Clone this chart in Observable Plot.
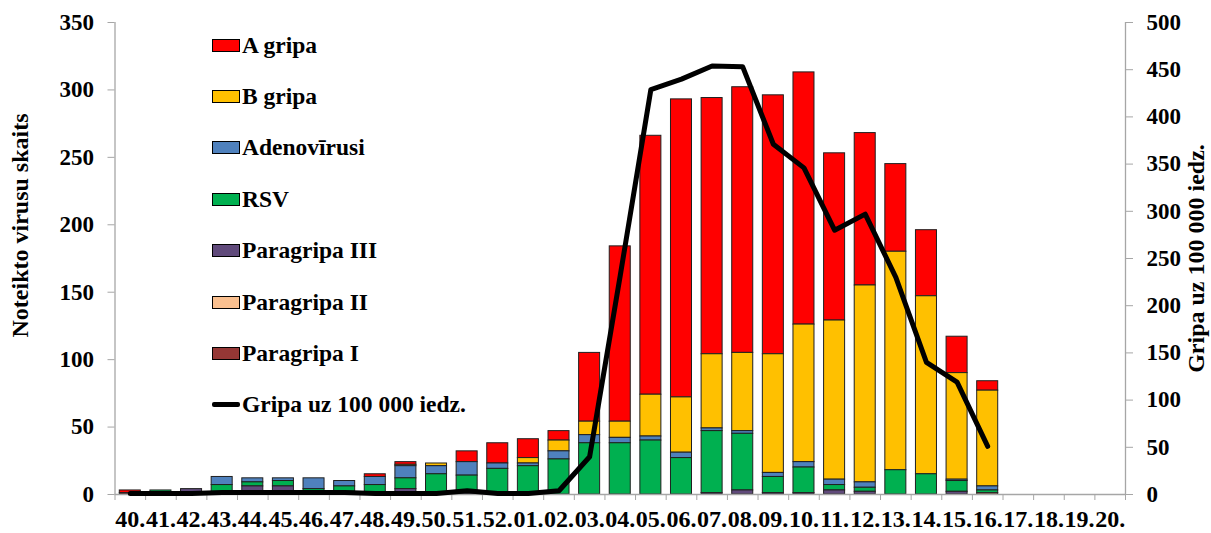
<!DOCTYPE html>
<html><head><meta charset="utf-8">
<script src="https://cdn.jsdelivr.net/npm/d3@7"></script>
<script src="https://cdn.jsdelivr.net/npm/@observablehq/plot@0.6"></script>
<style>
body{margin:0;background:#fff;}
#wrap{position:relative;width:1211px;height:533px;font-family:"Liberation Serif","Times New Roman",serif;font-weight:bold;}
#legend{position:absolute;left:0;top:0;}
.leg{position:absolute;left:212px;height:30px;display:flex;align-items:center;font-size:23.5px;color:#000;white-space:nowrap;}
.sw{width:26px;height:11px;border:1px solid #000;margin-right:2px;box-sizing:content-box;}
.ln{width:28px;height:5px;background:#000;margin-right:2px;border-radius:2px;}
</style></head><body><div id="wrap"></div>
<script>
const weeks = ["40.","41.","42.","43.","44.","45.","46.","47.","48.","49.","50.","51.","52.",
  "01.","02.","03.","04.","05.","06.","07.","08.","09.","10.","11.","12.","13.","14.","15.","16.","17.","18.","19.","20."];
const seriesNames = ["A gripa","B gripa","Adenovīrusi","RSV","Paragripa III","Paragripa II","Paragripa I"];
const seriesColors = ["#FF0000","#FFC000","#4F81BD","#00B050","#604A7B","#FAC090","#953735"];
const stackOrder = ["Paragripa I","Paragripa II","Paragripa III","RSV","Adenovīrusi","B gripa","A gripa"];
//                 40 41 42 43 44 45 46 47 48 49 50 51 52 01 02 03  04  05  06  07  08  09  10  11  12  13  14  15 16 17 18 19 20
const aGripa     = [2, 0, 0, 0, 0, 0, 0, 0, 2, 2, 0, 8,15,14, 7,51,130,192,221,190,197,192,187,124,113, 65, 49,27, 7, 0, 0, 0, 0];
const bGripa     = [0, 0, 0, 0, 0, 0, 0, 0, 0, 1, 2, 0, 0, 4, 8,10, 12, 31, 41, 55, 58, 88,102,118,146,162,132,79,71, 0, 0, 0, 0];
const adeno      = [0, 0, 0, 6, 3, 2, 8, 4, 6, 9, 6,10, 4, 2, 6, 6,  4,  3,  4,  2,  2,  3,  4,  4,  4,  0,  0, 1, 3, 0, 0, 0, 0];
const rsv        = [0, 3, 0, 7, 3, 4, 2, 4, 7, 8,15,13,18,21,26,38, 38, 40, 27, 46, 42, 12, 19,  4,  3, 18, 15, 8, 2, 0, 0, 0, 0];
const paraIII    = [0, 0, 4, 0, 6, 6, 2, 2, 0, 4, 0, 1, 1, 0, 0, 0,  0,  0,  0,  1,  3,  1,  1,  3,  2,  0,  0, 2, 0, 0, 0, 0, 0];
const paraII     = [0, 0, 0, 0, 0, 0, 0, 0, 0, 0, 0, 0, 0, 0, 0, 0,  0,  0,  0,  0,  0,  0,  0,  0,  0,  0,  0, 0, 1, 0, 0, 0, 0];
const paraI      = [1, 0, 0, 0, 0, 0, 0, 0, 0, 0, 0, 0, 0, 0, 0, 0,  0,  0,  0,  0,  0,  0,  0,  0,  0,  0,  0, 0, 0, 0, 0, 0, 0];
const lineName = "Gripa uz 100 000 iedz.";
const gripaRate  = [1, 1, 1, 2, 2, 2, 2, 2, 1, 1, 1, 4, 1, 1, 4,40,232,429,440,454,453,371,346,280,297,230,140,119,51,null,null,null,null];
const leftTicks = [0,50,100,150,200,250,300,350];
const rightTicks = [0,50,100,150,200,250,300,350,400,450,500];
const leftTitle = "Noteikto virusu skaits";
const rightTitle = "Gripa uz 100 000 iedz.";

const seriesValues = [aGripa,bGripa,adeno,rsv,paraIII,paraII,paraI];
const rows = [];
seriesValues.forEach((vals,s)=>vals.forEach((v,i)=>{ if(v>0) rows.push({i, week:weeks[i], series:seriesNames[s], value:v}); }));
const ratio = 350/500;
const linePts = gripaRate.map((v,i)=>({i,v})).filter(d=>d.v!=null);
const gray = "#a6a6a6";

const chart = Plot.plot({
  width:1211, height:533, marginTop:22, marginBottom:39, marginLeft:114.5, marginRight:86,
  style:{fontFamily:'"Liberation Serif","Times New Roman",serif', fontSize:"23px", fontWeight:"bold", color:"#000", background:"#fff", overflow:"visible"},
  x:{type:"linear", domain:[0, weeks.length], axis:null},
  y:{domain:[0,350], axis:null},
  color:{domain:seriesNames, range:seriesColors},
  marks:[
    Plot.rectY(rows, {x1:d=>d.i, x2:d=>d.i+1, y:"value", fill:"series", order:stackOrder, stroke:"#202020", strokeWidth:1, insetLeft:4.8, insetRight:4.8}),
    Plot.ruleY([0], {stroke:gray, strokeWidth:1.3}),
    Plot.ruleX([0, weeks.length], {stroke:gray, strokeWidth:1.3}),
    Plot.axisY({ticks:leftTicks, tickSize:7, tickPadding:14, stroke:gray, label:null}),
    Plot.axisY({anchor:"right", ticks:rightTicks.map(v=>v*ratio), tickFormat:v=>String(Math.round(v/ratio)), tickSize:7, tickPadding:14, stroke:gray, label:null}),
    Plot.axisX({ticks:d3.range(weeks.length+1), tickSize:6, tickFormat:()=>"", stroke:gray, label:null}),
    Plot.axisX({ticks:weeks.map((w,i)=>i+0.5), tickSize:0, tickPadding:15, tickFormat:t=>weeks[Math.floor(t)], label:null, fontSize:24}),
    Plot.line(linePts, {x:d=>d.i+0.5, y:d=>d.v*ratio, stroke:"#000", strokeWidth:5, strokeLinejoin:"round", strokeLinecap:"round"}),
    Plot.text([leftTitle], {frameAnchor:"left", textAnchor:"middle", dx:-94.5, dy:-33, rotate:-90, fontSize:24, fill:"#000"}),
    Plot.text([rightTitle], {frameAnchor:"right", textAnchor:"middle", dx:71, dy:0, rotate:-90, fontSize:24, fill:"#000"})
  ]
});
const wrap = document.getElementById("wrap");
wrap.appendChild(chart);

const legend = document.createElement("div");
legend.id = "legend";
const items = seriesNames.map((n,k)=>({name:n, color:seriesColors[k]})).concat([{name:lineName, line:true}]);
items.forEach((it,k)=>{
  const row = document.createElement("div");
  row.className = "leg";
  row.style.top = (45 + 51.4*k - 15) + "px";
  const sw = document.createElement("div");
  if (it.line) { sw.className = "ln"; } else { sw.className = "sw"; sw.style.background = it.color; }
  row.appendChild(sw);
  const t = document.createElement("span");
  t.textContent = it.name;
  row.appendChild(t);
  legend.appendChild(row);
});
wrap.appendChild(legend);
</script>
</body></html>
